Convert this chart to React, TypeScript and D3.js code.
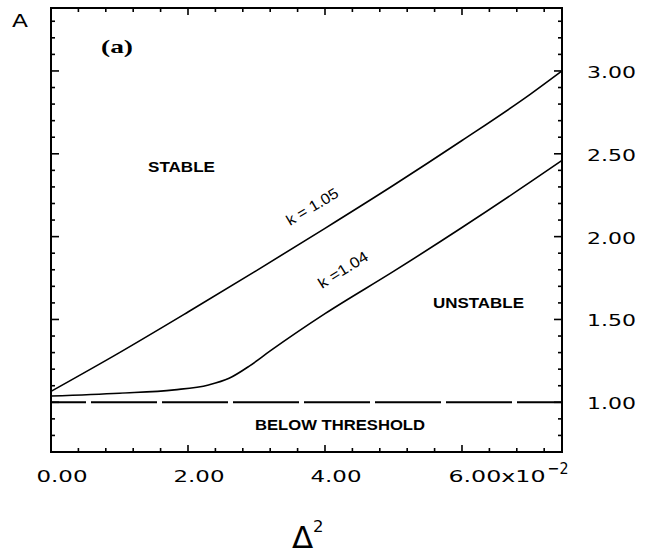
import React from 'react';
import * as d3 from 'd3';

// Δ² (in units of 10^-2 on the axis labels) versus stability boundary A
const xMajorTicks = [0, 0.02, 0.04, 0.06];
const xTickLabels = ['0.00', '2.00', '4.00', '6.00x10'];
const xTickExponent = '\u22122';
const yMajorTicks = [1.0, 1.5, 2.0, 2.5, 3.0];
const yTickLabels = ['1.00', '1.50', '2.00', '2.50', '3.00'];

// Boundary curves for two values of k: [Δ², A]
const boundaryK105: [number, number][] = [
  [0.0, 1.066],
  [0.01, 1.3],
  [0.02, 1.545],
  [0.03, 1.795],
  [0.04, 2.05],
  [0.05, 2.31],
  [0.06, 2.58],
  [0.07, 2.86],
  [0.0746, 3.0],
];

const boundaryK104: [number, number][] = [
  [0.0, 1.038],
  [0.01, 1.055],
  [0.018, 1.075],
  [0.023, 1.105],
  [0.026, 1.145],
  [0.029, 1.22],
  [0.032, 1.31],
  [0.04, 1.535],
  [0.05, 1.79],
  [0.06, 2.055],
  [0.07, 2.33],
  [0.0746, 2.46],
];

const thresholdA = 1.0;

const W = 648;
const H = 554;
const left = 51;
const right = 562;
const top = 8;
const bottom = 452;

export default function App() {
  const x = d3.scaleLinear().domain([0, 0.0746]).range([left, right]);
  const y = d3.scaleLinear().domain([0.7, 3.38]).range([bottom, top]);

  const xMinor = d3.range(0, 19).map((i) => +(i * 0.004).toFixed(4));
  const yMinor = d3.range(0, 27).map((i) => +(0.7 + i * 0.1).toFixed(2));
  const isMajorX = (v: number) => xMajorTicks.some((m) => Math.abs(m - v) < 1e-6);
  const isMajorY = (v: number) => yMajorTicks.some((m) => Math.abs(m - v) < 1e-6);

  const line = d3
    .line<[number, number]>()
    .x((d) => x(d[0]))
    .y((d) => y(d[1]))
    .curve(d3.curveMonotoneX);

  const numFont = "'DejaVu Sans', sans-serif";
  const boldFont = "'Liberation Sans', Arial, sans-serif";

  return (
    <svg
      width={W}
      height={H}
      viewBox={`0 0 ${W} ${H}`}
      style={{ position: 'absolute', left: 0, top: 0, background: '#fff' }}
    >
      <rect x={0} y={0} width={W} height={H} fill="#fff" />

      {/* frame */}
      <rect
        x={left}
        y={top}
        width={right - left}
        height={bottom - top}
        fill="none"
        stroke="#000"
        strokeWidth={2}
      />

      {/* x ticks, bottom and top, pointing inward */}
      {xMinor.map((v) => {
        const len = isMajorX(v) ? 7 : 4;
        return (
          <g key={`xt${v}`} stroke="#000" strokeWidth={1.6}>
            <line x1={x(v)} x2={x(v)} y1={bottom} y2={bottom - len} />
            <line x1={x(v)} x2={x(v)} y1={top} y2={top + len} />
          </g>
        );
      })}

      {/* y ticks, left and right, pointing inward */}
      {yMinor.map((v) => {
        const len = isMajorY(v) ? 8 : 4;
        return (
          <g key={`yt${v}`} stroke="#000" strokeWidth={1.6}>
            <line x1={left} x2={left + len} y1={y(v)} y2={y(v)} />
            <line x1={right} x2={right - len} y1={y(v)} y2={y(v)} />
          </g>
        );
      })}

      {/* right-hand tick labels */}
      {yMajorTicks.map((v, i) => (
        <text
          key={`yl${v}`}
          x={right + 25}
          y={y(v) + 7}
          fontFamily={numFont}
          fontSize={16.5}
          textLength={49}
          lengthAdjust="spacingAndGlyphs"
          fill="#000"
        >
          {yTickLabels[i]}
        </text>
      ))}

      {/* bottom tick labels */}
      {xMajorTicks.map((v, i) => {
        const last = i === xMajorTicks.length - 1;
        const cx = x(v) + 11;
        return (
          <text
            key={`xl${v}`}
            x={last ? cx - 24.5 : cx - 25.5}
            y={482}
            fontFamily={numFont}
            fontSize={16.5}
            textLength={last ? 97 : 51}
            lengthAdjust="spacingAndGlyphs"
            fill="#000"
          >
            {xTickLabels[i]}
          </text>
        );
      })}
      <text
        x={x(xMajorTicks[3]) + 11 - 24.5 + 99}
        y={474}
        fontFamily={numFont}
        fontSize={16.5}
        textLength={21}
        lengthAdjust="spacingAndGlyphs"
        fill="#000"
      >
        {xTickExponent}
      </text>

      {/* threshold line */}
      <line
        x1={x(0)}
        x2={x(0.0746)}
        y1={y(thresholdA)}
        y2={y(thresholdA)}
        stroke="#000"
        strokeWidth={2}
        strokeDasharray="66 5"
        strokeDashoffset={31}
      />

      {/* stability boundaries */}
      <path d={line(boundaryK105) || ''} fill="none" stroke="#000" strokeWidth={1.6} />
      <path d={line(boundaryK104) || ''} fill="none" stroke="#000" strokeWidth={1.6} />

      {/* curve labels */}
      <text
        transform="translate(290,226) rotate(-31)"
        fontFamily={boldFont}
        fontSize={15}
        textLength={58}
        lengthAdjust="spacingAndGlyphs"
        fill="#000"
      >
        k = 1.05
      </text>
      <text
        transform="translate(322,289) rotate(-32)"
        fontFamily={boldFont}
        fontSize={15}
        textLength={56}
        lengthAdjust="spacingAndGlyphs"
        fill="#000"
      >
        k =1.04
      </text>

      {/* region labels */}
      <text
        x={148}
        y={172}
        fontFamily={boldFont}
        fontWeight="bold"
        fontSize={15.5}
        textLength={67}
        lengthAdjust="spacingAndGlyphs"
        fill="#000"
      >
        STABLE
      </text>
      <text
        x={433}
        y={308}
        fontFamily={boldFont}
        fontWeight="bold"
        fontSize={15.5}
        textLength={91}
        lengthAdjust="spacingAndGlyphs"
        fill="#000"
      >
        UNSTABLE
      </text>
      <text
        x={255}
        y={430}
        fontFamily={boldFont}
        fontWeight="bold"
        fontSize={15.5}
        textLength={170}
        lengthAdjust="spacingAndGlyphs"
        fill="#000"
      >
        BELOW THRESHOLD
      </text>

      {/* panel tag */}
      <text
        x={101}
        y={53}
        fontFamily="'Liberation Serif', 'Times New Roman', serif"
        fontWeight="bold"
        fontSize={19}
        textLength={32}
        lengthAdjust="spacingAndGlyphs"
        fill="#000"
      >
        (a)
      </text>

      {/* axis titles */}
      <text
        x={12}
        y={27}
        fontFamily={numFont}
        fontSize={17}
        textLength={16}
        lengthAdjust="spacingAndGlyphs"
        fill="#000"
      >
        A
      </text>
      <text x={292} y={548} fontFamily={numFont} fontSize={31} fill="#000">
        Δ
      </text>
      <text x={313} y={532} fontFamily={numFont} fontSize={16.5} fill="#000">
        2
      </text>
    </svg>
  );
}
